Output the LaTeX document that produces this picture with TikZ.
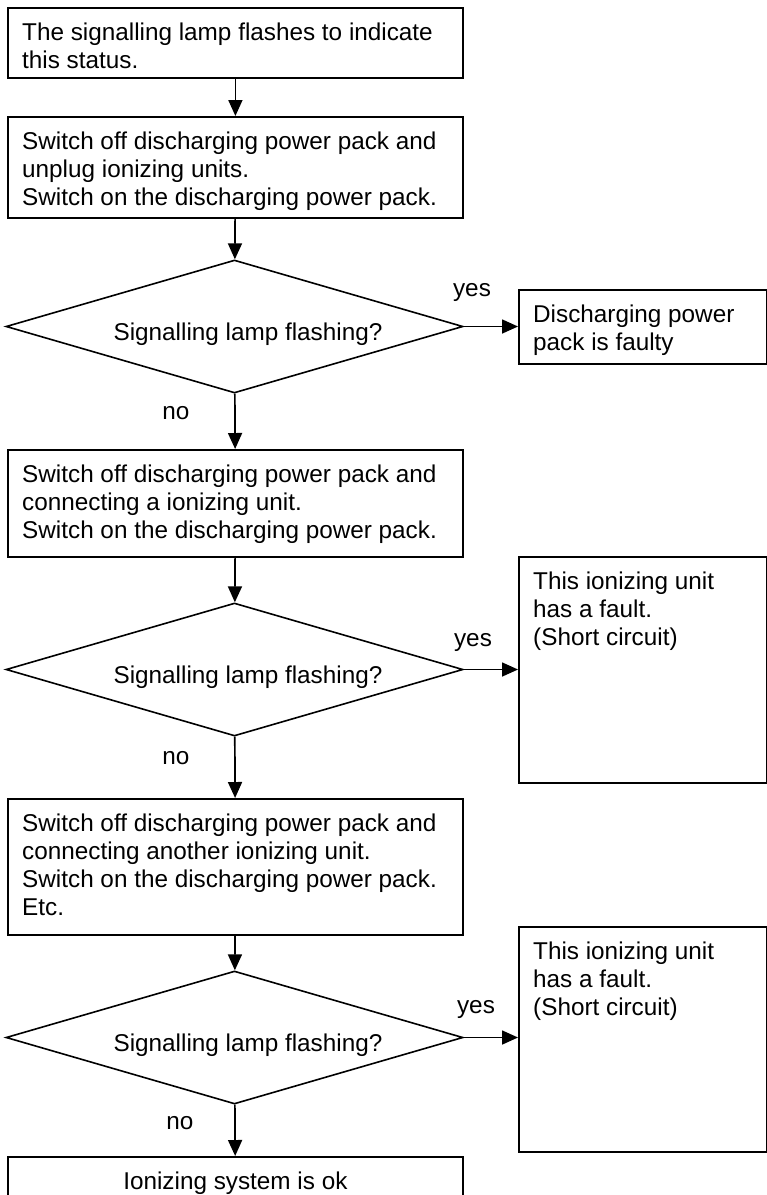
\documentclass[tikz,border=0pt]{standalone}
\usepackage{fontspec}
\setmainfont{Liberation Sans}
\usetikzlibrary{arrows.meta,positioning,shapes.geometric}

\tikzset{
  actbox/.style={draw,line width=1.8pt,rectangle,inner sep=0pt,minimum width=455pt,anchor=north west},
  testbox/.style={draw,line width=1.6pt,diamond,inner sep=0pt,minimum width=457pt,minimum height=133pt},
  txt/.style={font=\fontsize{24.3}{28}\selectfont,inner sep=0pt,align=left},
  flowarrow/.style={line width=1.7pt,-{Triangle[length=16pt,width=14pt]}},
}

\begin{document}
\begin{tikzpicture}[x=1pt,y=-1pt]
    \useasboundingbox (0,0) rectangle (767,1195);
    \clip (0,0) rectangle (767,1195);
    % steps down the left side
    \node[actbox,minimum height=70pt]  (b1) at (7,7) {};
    \node[actbox,minimum height=101pt] (b2) at (7,116) {};
    \node[actbox,minimum height=107pt] (b3) at (7,449) {};
    \node[actbox,minimum height=136pt] (b4) at (7,798) {};
    \node[actbox,minimum height=80pt]  (b5) at (7,1156) {};
    \node[txt,below right=16pt and 15pt of b1.north west] (t1) {The signalling lamp flashes to indicate\\this status.};
    \node[txt,below right=16pt and 15pt of b2.north west] (t2) {Switch off discharging power pack and\\unplug ionizing units.\\Switch on the discharging power pack.};
    \node[txt,below right=16pt and 15pt of b3.north west] (t3) {Switch off discharging power pack and\\connecting a ionizing unit.\\Switch on the discharging power pack.};
    \node[txt,below right=16pt and 15pt of b4.north west] (t4) {Switch off discharging power pack and\\connecting another ionizing unit.\\Switch on the discharging power pack.\\Etc.};
    \node[txt,below=16pt of b5.north] (t5) {Ionizing system is ok};
    % results on the right
    \node[actbox,minimum width=248pt,minimum height=74pt]  (r1) at (518,289) {};
    \node[actbox,minimum width=248pt,minimum height=226pt] (r2) at (518,556) {};
    \node[actbox,minimum width=248pt,minimum height=225pt] (r3) at (518,926) {};
    \node[txt,below right=16pt and 15pt of r1.north west] (s1) {Discharging power\\pack is faulty};
    \node[txt,below right=16pt and 15pt of r2.north west] (s2) {This ionizing unit\\has a fault.\\(Short circuit)};
    \node[txt,below right=16pt and 15pt of r3.north west] (s3) {This ionizing unit\\has a fault.\\(Short circuit)};
    % the three checks
    \foreach \i/\dy/\yx/\yy/\nx/\ny in {1/326.5/472/296/176/419,2/669.5/473/646/176/764,3/1037.5/476/1013/180/1129} {
        \node[testbox] (d\i) at (234.5,\dy) {};
        \node[txt,anchor=base] (q\i) at ([shift={(13.5,13.5)}]d\i.center) {Signalling lamp flashing?};
        \node[txt,anchor=base] (yes\i) at (\yx,\yy) {yes};
        \node[txt,anchor=base] (no\i) at (\nx,\ny) {no};
        \draw[flowarrow] (d\i.east) -- (d\i.east -| r\i.west);
      }
    \draw[flowarrow] (b1) -- (b2);
    \draw[flowarrow] (b2) -- (d1);
    \draw[flowarrow] (d1) -- (b3);
    \draw[flowarrow] (b3) -- (d2);
    \draw[flowarrow] (d2) -- (b4);
    \draw[flowarrow] (b4) -- (d3);
    \draw[flowarrow] (d3) -- (b5);
\end{tikzpicture}
\end{document}
